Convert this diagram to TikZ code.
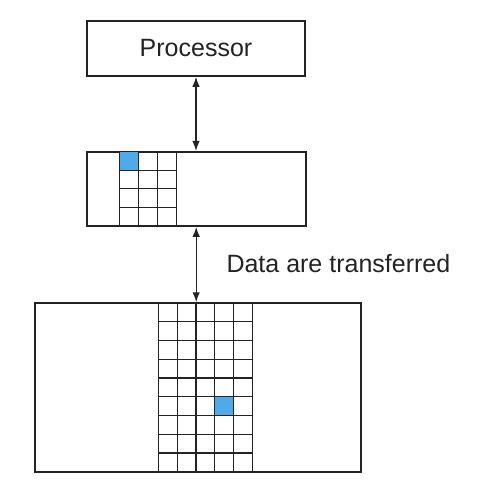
\documentclass[tikz,border=0pt]{standalone}
\usepackage{fontspec}
\setmainfont{Liberation Sans}
\usetikzlibrary{arrows.meta}

\definecolor{cellblue}{RGB}{78,170,232}
\definecolor{ink}{RGB}{35,35,35}

\tikzset{
  unit/.style={draw=ink, line width=1.6pt, inner sep=0pt},
  cell/.style={draw=ink, line width=1.2pt},
  link/.style={draw=ink, line width=1.3pt,
    {Latex[length=10pt,width=7.5pt]}-{Latex[length=10pt,width=7.5pt]}},
  lbl/.style={font=\fontsize{25}{30}\selectfont, text=ink},
}

\begin{document}
\begin{tikzpicture}[x=1pt,y=-1pt]
    \useasboundingbox (0,0) rectangle (478,490);
    \node[unit, lbl, minimum width=218pt, minimum height=55pt] (proc) at (196,48.5) {Processor};
    \node[unit, minimum width=219pt, minimum height=74.3pt] (cache) at (196.2,188.9) {};
    \node[unit, minimum width=326pt, minimum height=168.7pt] (mem) at (197.7,387.4) {};
    % cache block
    \fill[cellblue] (119.3,151.7) rectangle ++(19,18.6);
    \foreach \i in {0,...,3} \draw[cell] (119.3+19*\i,151.7) -- ++(0,74.3);
    \foreach \j in {1,...,3} \draw[cell] (119.3,151.7+18.57*\j) -- ++(57,0);
    % memory blocks
    \fill[cellblue] (214.3,397.3) rectangle ++(19,18.7);
    \foreach \i in {0,...,5} \draw[cell] (158.3+18.8*\i,303) -- ++(0,168.7);
    \foreach \j in {1,...,8} \draw[cell] (158.3,303+18.74*\j) -- ++(94,0);
    % transfers
    \draw[link] (proc.south) -- (proc.south |- cache.north);
    \draw[link] (cache.south) -- (cache.south |- mem.north);
    \node[lbl, anchor=base west] (note) at (223,272) {Data are transferred};
\end{tikzpicture}
\end{document}
